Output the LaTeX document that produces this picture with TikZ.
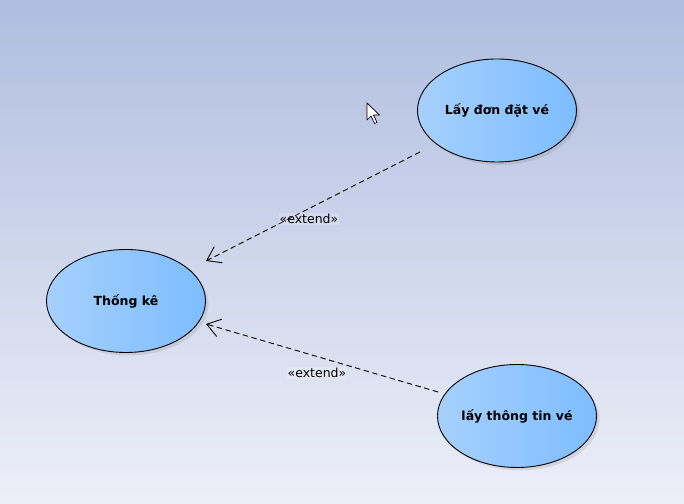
\documentclass[tikz,border=0pt]{standalone}
\usepackage{fontspec}
\setmainfont{DejaVu Sans}
\usetikzlibrary{shapes.geometric, arrows.meta, shadows}
\definecolor{bgtop}{HTML}{AFBDDF}
\definecolor{bgbottom}{HTML}{EDEFF8}
\definecolor{caseleft}{HTML}{A6D0FC}
\definecolor{casemid}{HTML}{BEDFFF}
\definecolor{caseright}{HTML}{7DBDFF}
\tikzstyle{usecase} = [ellipse, draw=black, line width=0.9bp, left color=caseleft, middle color=casemid, right color=caseright, minimum width=159bp, minimum height=103bp, inner sep=0pt, font=\fontsize{12.5bp}{14bp}\selectfont\bfseries, drop shadow={shadow xshift=3bp, shadow yshift=-3bp, opacity=0.2}]
\tikzstyle{extendarrow} = [line width=0.9bp, dash pattern=on 5.5bp off 3.5bp, -{Straight Barb[length=13bp, width=18bp, line width=0.9bp]}]
\tikzstyle{stereo} = [fill=white, fill opacity=0.2, text opacity=1, inner sep=1bp, font=\fontsize{12.5bp}{14bp}\selectfont]

\begin{document}
\begin{tikzpicture}[x=1bp, y=1bp]
    \shade [top color=bgtop, bottom color=bgbottom] (0,0) rectangle (684,504);
    \useasboundingbox (0,0) rectangle (684,504);

    \node (thongke) [usecase] at (126,203) {Thống kê};
    \node (laydon) [usecase] at (497,393.5) {Lấy đơn đặt vé};
    \node (laytt) [usecase] at (517,88) {lấy thông tin vé};

    \coordinate (fromdon) at (420,352);
    \coordinate (todon) at (206,243);
    \coordinate (fromtt) at (438,112);
    \coordinate (tott) at (206,180);

    \draw [extendarrow] (fromdon) -- (todon);
    \draw [extendarrow] (fromtt) -- (tott);
    \node (ext1) [stereo] at (309,285) {«extend»};
    \node (ext2) [stereo] at (317,131) {«extend»};

    % mouse pointer
    \filldraw [fill=white, draw=black, line width=0.7bp, line join=round] (367,401) -- ++(0,-17) -- ++(4,4) -- ++(3.5,-7.5) -- ++(2.5,1) -- ++(-3.5,7.5) -- ++(6,0) -- cycle;
\end{tikzpicture}
\end{document}
